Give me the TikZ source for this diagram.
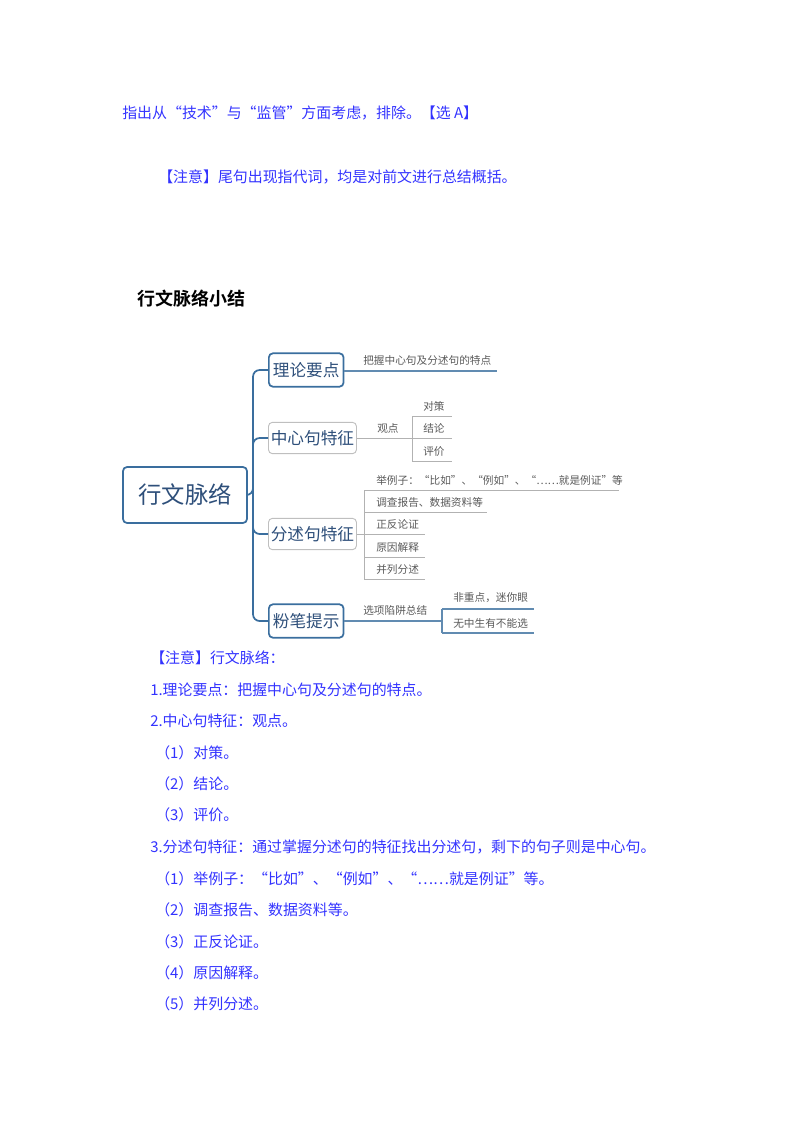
\documentclass[tikz,border=0pt]{standalone}
\usepackage{fontspec}
\newfontfamily\cjk{Noto Sans CJK SC}
\newfontfamily\cjkb{Noto Sans CJK SC}[BoldFont={* Bold}]
\begin{document}
\begin{tikzpicture}[x=0.75pt,y=-0.75pt,
  body/.style={anchor=west,inner sep=0,text=blue!80!white,font=\cjk\fontsize{11.2}{13}\selectfont},
  leaf/.style={anchor=west,inner sep=0,text=black!65,font=\cjk\fontsize{8}{10}\selectfont},
  dbox/.style={draw=mmblue,line width=1.3pt,rounded corners=3pt,text=mmtext,font=\cjk\fontsize{12.5}{14}\selectfont,minimum height=25pt,inner sep=0},
  lbox/.style={draw=black!25,line width=0.7pt,rounded corners=3pt,text=mmtext,font=\cjk\fontsize{12.5}{14}\selectfont,minimum height=23.5pt,minimum width=66pt,inner sep=0},
  trunk/.style={draw=mmblue,line width=1.3pt,rounded corners=5pt},
  thin/.style={draw=mmblue!80,line width=0.8pt},
  grey/.style={draw=black!30,line width=0.6pt}]
\definecolor{mmblue}{HTML}{3A6E9E}
\definecolor{mmtext}{HTML}{2E4F7A}
\useasboundingbox (0,0) rectangle (800,1132);
\node[body] (t1) at (122,113) {指出从“技术”与“监管”方面考虑，排除。【选 A】};
\node[body] (t2) at (158,177) {【注意】尾句出现指代词，均是对前文进行总结概括。};
\node[anchor=west,inner sep=0,font=\cjkb\bfseries\fontsize{13.5}{15}\selectfont] (title) at (137,299) {行文脉络小结};
% mind map
\node[dbox,minimum width=93pt,minimum height=42pt,font=\cjk\fontsize{17.5}{20}\selectfont] (root) at (185,495) {行文脉络};
\node[dbox,minimum width=56pt,anchor=west] (b1) at (268,370) {理论要点};
\node[lbox,anchor=west] (b2) at (268,438) {中心句特征};
\node[lbox,anchor=west] (b3) at (268,534) {分述句特征};
\node[dbox,minimum width=56pt,anchor=west] (b4) at (268,621) {粉笔提示};
\coordinate (tr) at (253,495);
\draw[trunk] (root.east) -- (tr) |- (b1.west);
\draw[trunk] (tr) |- (b2.west);
\draw[trunk] (tr) |- (b3.west);
\draw[trunk] (tr) |- (b4.west);
% branch 1
\coordinate (e1) at (497,371);
\draw[thin] (b1.east |- e1) -- (e1);
\node[leaf] (l1) at (363,360) {把握中心句及分述句的特点};
% branch 2
\coordinate (k2) at (412,438);
\draw[grey] (b2.east) -- (k2);
\node[leaf] (l2) at (377,428) {观点};
\draw[grey] (412,416) -- (412,461);
\foreach \y in {416,438,461} \draw[grey] (412,\y) -- (452,\y);
\node[leaf] at (423,406) {对策};
\node[leaf] at (423,428) {结论};
\node[leaf] at (423,451) {评价};
% branch 3
\coordinate (k3) at (364,534);
\draw[grey] (b3.east) -- (k3);
\draw[grey] (364,490) -- (364,579);
\draw[grey] (364,490) -- (619,490);
\draw[grey] (364,512) -- (487,512);
\foreach \y in {534,557,579} \draw[grey] (364,\y) -- (425,\y);
\node[leaf] at (376,480) {举例子：“比如”、“例如”、“……就是例证”等};
\node[leaf] at (376,502) {调查报告、数据资料等};
\node[leaf] at (376,524) {正反论证};
\node[leaf] at (376,547) {原因解释};
\node[leaf] at (376,569) {并列分述};
% branch 4
\coordinate (k4) at (442,621);
\draw[thin] (b4.east) -- (k4);
\node[leaf] (l4) at (363,610) {选项陷阱总结};
\draw[thin] (442,609) -- (442,633);
\draw[thin] (442,609) -- (534,609);
\draw[thin] (442,633) -- (534,633);
\node[leaf] at (453,598) {非重点，迷你眼};
\node[leaf] at (453,623) {无中生有不能选};
% notes
\node[body] at (150,658) {【注意】行文脉络：};
\node[body] at (150,690) {1.理论要点：把握中心句及分述句的特点。};
\node[body] at (150,721) {2.中心句特征：观点。};
\node[body] at (155,753) {（1）对策。};
\node[body] at (155,784) {（2）结论。};
\node[body] at (155,815) {（3）评价。};
\node[body] at (150,847) {3.分述句特征：通过掌握分述句的特征找出分述句，剩下的句子则是中心句。};
\node[body] at (155,879) {（1）举例子：“比如”、“例如”、“……就是例证”等。};
\node[body] at (155,910) {（2）调查报告、数据资料等。};
\node[body] at (155,942) {（3）正反论证。};
\node[body] at (155,973) {（4）原因解释。};
\node[body] at (155,1004) {（5）并列分述。};
\end{tikzpicture}
\end{document}
